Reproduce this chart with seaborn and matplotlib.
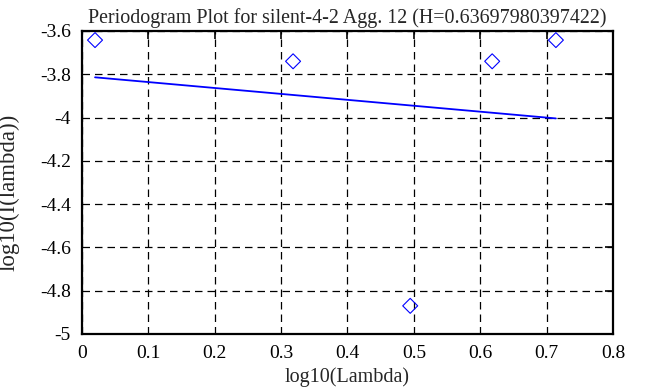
import matplotlib
matplotlib.use("Agg")
import matplotlib.pyplot as plt
import seaborn as sns
import pandas as pd
from matplotlib.ticker import FuncFormatter

# periodogram points
log_lambda = [0.0196, 0.318, 0.4945, 0.618, 0.714]
log_power = [-3.642, -3.740, -4.870, -3.740, -3.642]

# fitted line end points
fit_x = [0.0196, 0.714]
fit_y = [-3.814, -4.004]

x_ticks = [0, 0.1, 0.2, 0.3, 0.4, 0.5, 0.6, 0.7, 0.8]
y_ticks = [-5, -4.8, -4.6, -4.4, -4.2, -4, -3.8, -3.6]

title = "Periodogram Plot for silent-4-2 Agg. 12 (H=0.63697980397422)"


def main() -> None:
    sns.set_style("white")
    plt.rcParams["font.family"] = ["Liberation Serif", "DejaVu Serif"]
    plt.rcParams["axes.unicode_minus"] = False

    points = pd.DataFrame({"x": log_lambda, "y": log_power})
    fit = pd.DataFrame({"x": fit_x, "y": fit_y})

    fig = plt.figure(figsize=(6.53, 3.87), dpi=100)
    ax = fig.add_axes([0.1256, 0.137, 0.8131, 0.7829])

    sns.lineplot(data=fit, x="x", y="y", ax=ax, color="#0000ff", linewidth=1.3)
    sns.scatterplot(
        data=points, x="x", y="y", ax=ax, marker="D", s=58,
        facecolors="none", edgecolor="#0000ff", linewidth=0.8, zorder=3,
    )

    ax.set_xlim(0, 0.8)
    ax.set_ylim(-5, -3.6)
    ax.set_xticks(x_ticks)
    ax.set_yticks(y_ticks)
    fmt = FuncFormatter(lambda v, _: "%g" % round(v, 3))
    ax.xaxis.set_major_formatter(fmt)
    ax.yaxis.set_major_formatter(fmt)

    ax.grid(True, color="black", linestyle=(0, (6, 4)), linewidth=0.9)
    ax.tick_params(direction="in", length=6, width=1.2, top=True, right=True,
                   labelsize=14, colors="black", pad=8)
    for spine in ax.spines.values():
        spine.set_linewidth(1.6)
        spine.set_color("black")

    ax.set_xlabel("log10(Lambda)", fontsize=14.5, labelpad=4)
    ax.set_ylabel("log10(I(lambda))", fontsize=16.5)
    ax.yaxis.set_label_coords(-0.117, 0.469)
    ax.set_title(title, fontsize=14.4, pad=6)

    fig.savefig("out.png", dpi=100)


if __name__ == "__main__":
    main()
